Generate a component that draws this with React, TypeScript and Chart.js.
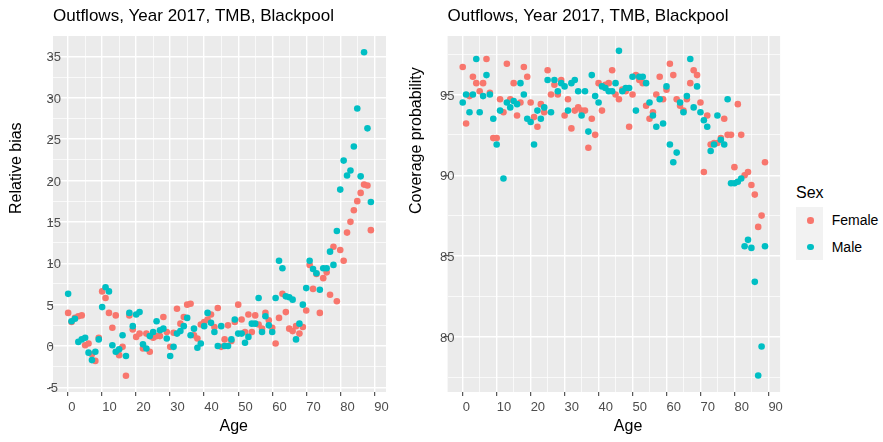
import React, { useEffect, useRef } from "react";
import { Chart, registerables } from "chart.js";

Chart.register(...registerables);

const FONT = '"Liberation Sans", Arial, Helvetica, sans-serif';

const ages = [
  0, 1, 2, 3, 4, 5, 6, 7, 8, 9, 10, 11, 12, 13, 14, 15, 16, 17, 18, 19,
  20, 21, 22, 23, 24, 25, 26, 27, 28, 29, 30, 31, 32, 33, 34, 35, 36, 37, 38, 39,
  40, 41, 42, 43, 44, 45, 46, 47, 48, 49, 50, 51, 52, 53, 54, 55, 56, 57, 58, 59,
  60, 61, 62, 63, 64, 65, 66, 67, 68, 69, 70, 71, 72, 73, 74, 75, 76, 77, 78, 79,
  80, 81, 82, 83, 84, 85, 86, 87, 88, 89,
];

const biasFemale = [
  4.0, 2.9, 3.4, 3.6, 3.7, 0.1, 0.3, -1.0, -1.8, 1.0,
  6.6, 5.8, 4.0, 2.2, 3.7, -1.1, -0.1, -3.6, 3.7, 2.0,
  1.1, 1.5, -0.3, 1.5, -0.7, 1.0, 1.2, 1.2, 3.5, 1.7,
  -0.1, 1.6, 4.5, 2.7, 3.5, 5.0, 5.1, 1.3, 0.9, 2.6,
  2.9, 3.2, 3.8, 2.3, 4.6, -0.1, 0.8, 2.5, 0.6, 2.9,
  5.0, 3.2, 1.7, 3.8, 1.7, 3.7, 2.6, 2.1, 4.0, 3.1,
  2.2, 0.3, 3.4, 6.3, 4.1, 2.1, 1.8, 2.4, 1.5, 2.3,
  4.3, 9.8, 6.9, 8.7, 4.0, 8.2, 8.9, 6.2, 12.0, 5.4,
  11.6, 10.3, 13.7, 15.0, 16.4, 17.5, 18.5, 19.5, 19.4, 14.0,
];

const biasMale = [
  6.3, 3.0, 3.3, 0.5, 0.8, 1.0, -0.8, -1.7, -0.7, 0.8,
  4.7, 7.1, 6.6, 0.1, -0.7, -0.4, 1.3, -1.2, 4.0, 2.4,
  3.8, 4.1, 0.2, -0.3, 1.2, 1.7, 3.0, 1.9, 2.1, 0.9,
  -1.2, -0.1, 1.5, 1.8, 2.4, 3.4, 1.3, 2.1, -0.2, 0.3,
  2.4, 4.0, 2.8, 1.7, 0.0, 2.4, 0.0, 0.0, 0.8, 3.2,
  1.5, 1.5, 0.4, 1.1, 2.7, 2.7, 5.8, 1.7, 3.6, 2.5,
  1.7, 5.8, 10.3, 9.4, 6.0, 5.9, 5.6, 0.8, 2.7, 5.0,
  7.0, 10.3, 9.3, 8.8, 6.8, 9.4, 9.4, 11.4, 9.8, 13.9,
  18.9, 22.4, 20.6, 21.2, 24.1, 28.7, 20.5, 35.5, 26.3, 17.4,
];

const coverFemale = [
  96.7, 93.2, 94.9, 96.1, 95.7, 95.2, 95.7, 97.2, 95.1, 92.3,
  92.3, 94.7, 93.9, 96.9, 94.7, 95.7, 93.7, 94.5, 96.7, 96.1,
  94.5, 93.6, 93.0, 94.4, 93.9, 96.5, 95.0, 95.6, 95.0, 95.9,
  93.7, 94.7, 92.9, 94.0, 94.2, 94.0, 94.0, 91.7, 93.5, 92.5,
  95.7, 94.0, 95.6, 95.7, 96.5, 95.0, 94.7, 95.3, 95.2, 93.0,
  95.0, 96.2, 95.9, 95.7, 94.3, 93.5, 93.9, 95.0, 96.1, 94.7,
  95.3, 96.9, 96.2, 94.7, 94.3, 94.0, 94.7, 95.7, 96.5, 96.2,
  94.5, 90.2, 93.7, 91.9, 92.0, 92.0, 92.3, 93.5, 92.5, 92.5,
  90.5, 94.4, 92.5, 90.0, 90.2, 89.4, 88.8, 86.8, 87.5, 90.8,
];

const coverMale = [
  94.5, 95.0, 93.9, 95.0, 97.2, 93.9, 94.9, 96.2, 95.0, 93.5,
  91.9, 94.0, 89.8, 94.5, 94.2, 94.6, 94.4, 95.7, 95.0, 93.5,
  93.3, 91.9, 94.0, 93.5, 94.2, 95.9, 93.9, 95.9, 95.2, 95.7,
  95.5, 94.0, 95.7, 95.9, 95.2, 93.7, 95.2, 92.7, 96.2, 94.9,
  94.5, 95.5, 95.4, 95.2, 95.2, 95.7, 97.7, 95.2, 95.4, 95.4,
  96.1, 94.0, 96.1, 96.1, 95.7, 94.5, 93.7, 93.0, 94.7, 93.2,
  95.5, 91.9, 90.8, 91.4, 94.5, 93.9, 94.9, 97.2, 94.2, 95.5,
  93.9, 93.4, 93.0, 91.5, 91.9, 93.7, 92.2, 91.9, 94.7, 89.5,
  89.5, 89.6, 89.8, 85.6, 86.0, 85.5, 83.4, 77.6, 79.4, 85.6,
];

const xTicks = [0, 5, 10, 15, 20, 25, 30, 35, 40, 45, 50, 55, 60, 65, 70, 75, 80, 85, 90];
const biasTicks = [-5, -2.5, 0, 2.5, 5, 7.5, 10, 12.5, 15, 17.5, 20, 22.5, 25, 27.5, 30, 32.5, 35];
const coverTicks = [77.5, 80, 82.5, 85, 87.5, 90, 92.5, 95, 97.5];

const TITLE = "Outflows, Year 2017, TMB, Blackpool";
const SEX_LABELS = ["Female", "Male"];
const COLORS = { Female: "#F8766D", Male: "#00BFC4" };

const ggPlugin = {
  id: "gg",
  beforeDraw(chart: any, _args: any, opts: any) {
    const { ctx, chartArea: a } = chart;
    ctx.save();
    ctx.fillStyle = "#EBEBEB";
    ctx.fillRect(a.left, a.top, a.right - a.left, a.bottom - a.top);
    ctx.restore();
  },
  afterDraw(chart: any, _args: any, opts: any) {
    const { ctx, chartArea: a } = chart;
    ctx.save();
    ctx.fillStyle = "#000000";
    ctx.font = `16px ${FONT}`;
    ctx.textAlign = "left";
    ctx.textBaseline = "middle";
    const cx = (a.left + a.right) / 2;
    const cy = (a.top + a.bottom) / 2;
    ctx.fillText(opts.xTitle, cx, opts.xTitleY);
    ctx.translate(opts.yTitleX, cy);
    ctx.rotate(-Math.PI / 2);
    ctx.fillText(opts.yTitle, 0, 0);
    ctx.restore();
  },
};

function isMajor(v: number, step: number) {
  return Math.abs(v % step) < 1e-9;
}

function makeConfig(p: {
  female: number[];
  male: number[];
  yMin: number;
  yMax: number;
  yTicks: number[];
  yAxisWidth: number;
  labelPad: number;
  rightPad: number;
  yTitle: string;
  yTitleX: number;
}) {
  const grid = (step: number) => ({
    color: "#FFFFFF",
    lineWidth: (c: any) => (c.tick && isMajor(c.tick.value, step) ? 1.4 : 0.7),
    drawTicks: true,
    tickLength: 4,
    tickWidth: 1,
    tickColor: (c: any) => (c.tick && isMajor(c.tick.value, step) ? "#333333" : "rgba(0,0,0,0)"),
  });
  return {
    type: "scatter" as const,
    data: {
      datasets: [
        {
          label: SEX_LABELS[1],
          data: ages.map((a, i) => ({ x: a, y: p.male[i] })),
          backgroundColor: COLORS.Male,
          borderWidth: 0,
          pointRadius: 3.3,
        },
        {
          label: SEX_LABELS[0],
          data: ages.map((a, i) => ({ x: a, y: p.female[i] })),
          backgroundColor: COLORS.Female,
          borderWidth: 0,
          pointRadius: 3.3,
        },
      ],
    },
    options: {
      responsive: false,
      animation: false as const,
      events: [],
      layout: { padding: { left: 0, right: p.rightPad, top: 0, bottom: 0 } },
      plugins: {
        legend: { display: false },
        tooltip: { enabled: false },
        title: {
          display: true,
          text: TITLE,
          align: "start" as const,
          fullSize: false,
          color: "#000000",
          font: { size: 17, family: FONT, weight: "normal" as const },
          padding: { top: 6, bottom: 9.6 },
        },
        gg: { xTitle: "Age", xTitleY: 427, yTitle: p.yTitle, yTitleX: p.yTitleX },
      },
      scales: {
        x: {
          type: "linear" as const,
          min: -4.45,
          max: 93.45,
          afterBuildTicks: (s: any) => {
            s.ticks = xTicks.map((v) => ({ value: v }));
          },
          afterFit: (s: any) => {
            s.height = 50;
          },
          ticks: {
            autoSkip: false,
            maxRotation: 0,
            minRotation: 0,
            align: "start" as const,
            padding: 4,
            color: "#4D4D4D",
            font: { size: 13, family: FONT },
            callback: (v: any) => (isMajor(Number(v), 10) ? String(v) : ""),
          },
          grid: grid(10),
          border: { display: false },
        },
        y: {
          type: "linear" as const,
          min: p.yMin,
          max: p.yMax,
          afterBuildTicks: (s: any) => {
            s.ticks = p.yTicks.map((v) => ({ value: v }));
          },
          afterFit: (s: any) => {
            s.width = p.yAxisWidth;
          },
          ticks: {
            autoSkip: false,
            mirror: true,
            crossAlign: "near" as const,
            padding: p.labelPad,
            labelOffset: 1.5,
            color: "#4D4D4D",
            font: { size: 13, family: FONT },
            callback: (v: any) => (isMajor(Number(v), 5) ? String(v) : ""),
          },
          grid: grid(5),
          border: { display: false },
        },
      },
    },
    plugins: [ggPlugin],
  };
}

function Panel(props: { width: number; config: any }) {
  const ref = useRef<HTMLCanvasElement | null>(null);
  useEffect(() => {
    if (!ref.current) return;
    const chart = new Chart(ref.current, props.config);
    return () => chart.destroy();
  }, []);
  return <canvas ref={ref} width={props.width} height={442} style={{ display: "block", width: props.width, height: 442 }} />;
}

export default function App() {
  const leftCfg = makeConfig({
    female: biasFemale,
    male: biasMale,
    yMin: -5.555,
    yMax: 37.455,
    yTicks: biasTicks,
    yAxisWidth: 53,
    labelPad: -6.5,
    rightPad: 14,
    yTitle: "Relative bias",
    yTitleX: 17,
  });
  const rightCfg = makeConfig({
    female: coverFemale,
    male: coverMale,
    yMin: 76.58,
    yMax: 98.62,
    yTicks: coverTicks,
    yAxisWidth: 47.6,
    labelPad: -7.6,
    rightPad: 9.9,
    yTitle: "Coverage probability",
    yTitleX: 16.5,
  });
  const keyTop = 207;
  const keyH = 26.6;
  return (
    <div style={{ position: "fixed", left: 0, top: 0, width: 883, height: 442, background: "#FFFFFF", overflow: "hidden" }}>
      <div style={{ position: "absolute", left: 0, top: 0 }}>
        <Panel width={400} config={leftCfg} />
      </div>
      <div style={{ position: "absolute", left: 400, top: 0 }}>
        <Panel width={390} config={rightCfg} />
      </div>
      <div style={{ position: "absolute", left: 796, top: 183, font: `16px ${FONT}`, lineHeight: "20px", color: "#000" }}>Sex</div>
      {SEX_LABELS.map((s, i) => (
        <React.Fragment key={s}>
          <div
            style={{
              position: "absolute",
              left: 796,
              top: keyTop + i * keyH,
              width: 27,
              height: keyH,
              background: "#F2F2F2",
            }}
          />
          <div
            style={{
              position: "absolute",
              left: 807.4,
              top: keyTop + i * keyH + keyH / 2 - 3.3,
              width: 6.6,
              height: 6.6,
              borderRadius: "50%",
              background: (COLORS as any)[s],
            }}
          />
          <div
            style={{
              position: "absolute",
              left: 831.7,
              top: keyTop + i * keyH + keyH / 2 - 10,
              font: `14px ${FONT}`,
              lineHeight: "20px",
              color: "#000",
            }}
          >
            {s}
          </div>
        </React.Fragment>
      ))}
    </div>
  );
}
